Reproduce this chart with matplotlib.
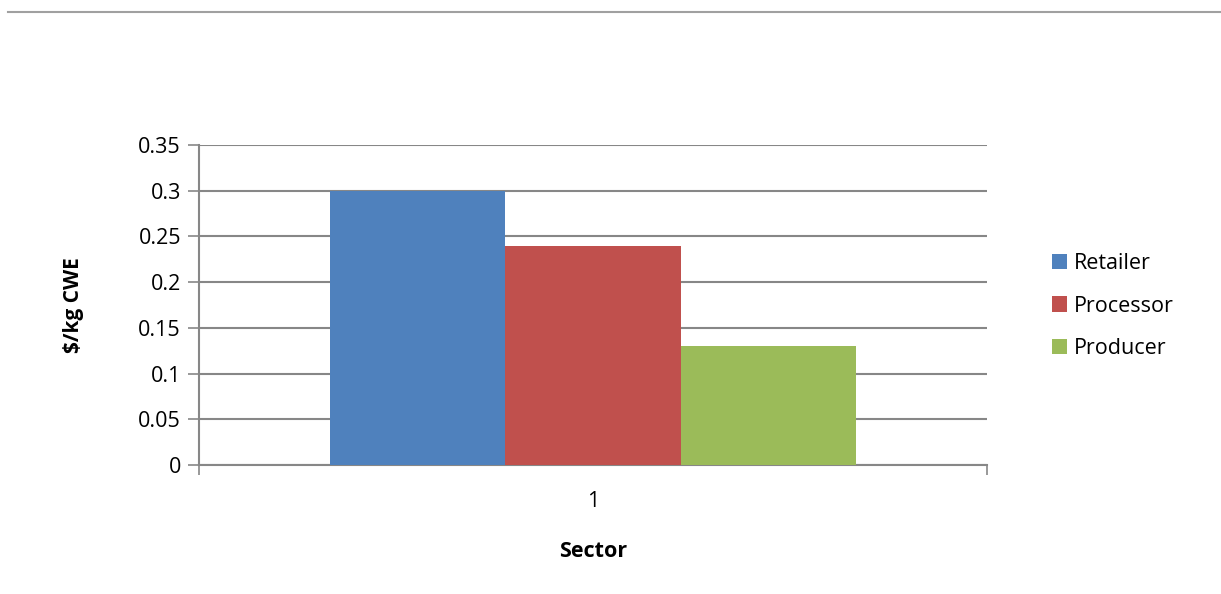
import numpy as np
import matplotlib.pyplot as plt
from matplotlib.lines import Line2D

categories = ["1"]
series = ["Retailer", "Processor", "Producer"]
values = [0.30, 0.24, 0.13]
colors = ["#4F81BD", "#C0504D", "#9BBB59"]
yticks = [0, 0.05, 0.1, 0.15, 0.2, 0.25, 0.3, 0.35]
ytick_labels = ["0", "0.05", "0.1", "0.15", "0.2", "0.25", "0.3", "0.35"]

plt.rcParams['font.family'] = ['Open Sans', 'DejaVu Sans']

fig = plt.figure(figsize=(12.21, 5.94), dpi=100)
ax = fig.add_axes([199 / 1221, 1 - 465 / 594, 788 / 1221, 320 / 594])

# separator line at the top of the page
fig.add_artist(Line2D([8 / 1221, 1.0], [1 - 12 / 594, 1 - 12 / 594],
                      transform=fig.transFigure, color="#A0A0A0", lw=1.5))

width = 0.2222
x = np.arange(1, len(categories) + 1)
for i, (name, val, c) in enumerate(zip(series, values, colors)):
    ax.bar(x + (i - 1) * width, [val], width, color=c, label=name, zorder=3)

ax.set_xlim(0.5, len(categories) + 0.5)
ax.set_ylim(0, 0.35)
ax.set_yticks(yticks)
ax.set_yticklabels(ytick_labels, fontsize=15.5)
ax.set_xticks(x)
ax.set_xticklabels(categories, fontsize=15.5)
ax.set_xticks([0.5, 1.5], minor=True)
ax.tick_params(axis="x", which="major", length=0, pad=18.5)
ax.tick_params(axis="x", which="minor", length=7, color="#878787", width=1.2)
ax.tick_params(axis="y", length=8, color="#878787", width=1.2, pad=5)
ax.grid(axis="y", color="#878787", lw=1.5, zorder=0)

for s in ["top", "right"]:
    ax.spines[s].set_visible(False)
for s in ["left", "bottom"]:
    ax.spines[s].set_color("#878787")
    ax.spines[s].set_linewidth(1.5)

ax.set_ylabel("$/kg CWE", fontsize=15, fontweight="bold", labelpad=39)
ax.set_xlabel("Sector", fontsize=15.5, fontweight="bold", labelpad=21)

ax.legend(loc="upper left", bbox_to_anchor=(1052 / 1221, 1 - 253 / 594),
          bbox_transform=fig.transFigure, frameon=False, fontsize=15.5,
          borderpad=0, borderaxespad=0,
          handlelength=0.7, handleheight=0.7, handletextpad=0.3,
          labelspacing=1.0)

fig.savefig("out.png", dpi=100)
